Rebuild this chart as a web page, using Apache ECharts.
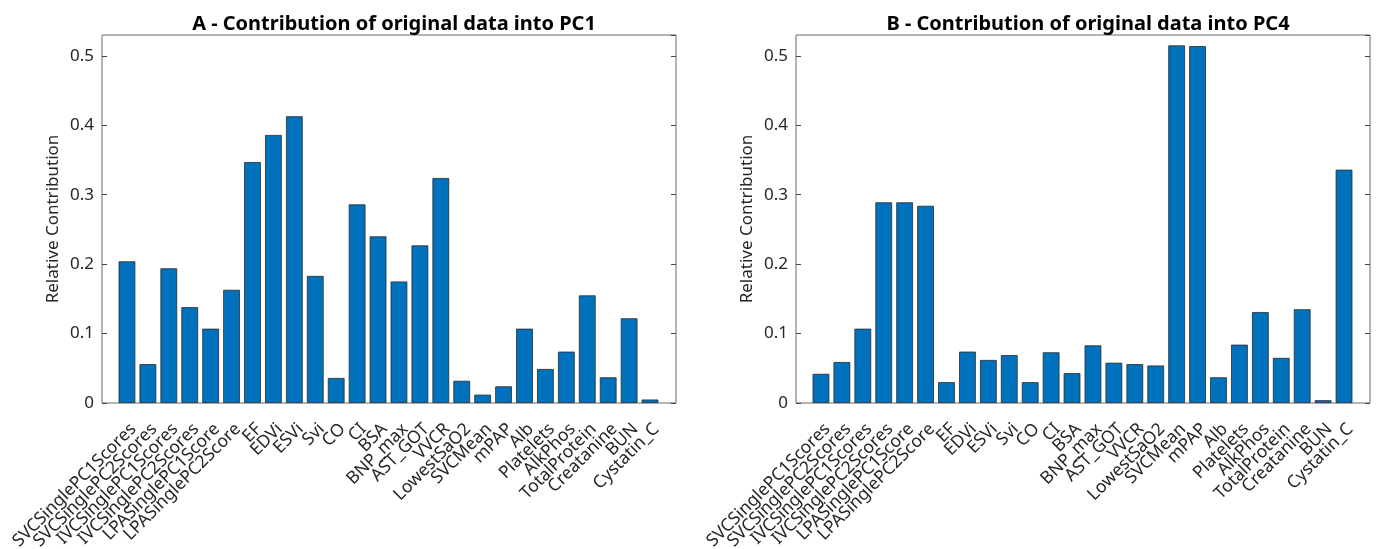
<!DOCTYPE html>
<html lang="en">
<head>
    <meta charset="UTF-8">
    <title>PC contributions</title>
    <script src="https://cdn.jsdelivr.net/npm/echarts@6/dist/echarts.min.js"></script>
    <style>
        body { margin: 0; background: #fff; }
    </style>
</head>
<body>
<div id="main" style="width: 1378px; height: 549px;"></div>

<script>
    var categories = ['SVCSinglePC1Scores', 'SVCSinglePC2Scores', 'IVCSinglePC1Scores', 'IVCSinglePC2Scores',
        'LPASinglePC1Score', 'LPASinglePC2Score', 'EF', 'EDVi', 'ESVi', 'Svi', 'CO', 'CI', 'BSA', 'BNP_max',
        'AST_GOT', 'VVCR', 'LowestSaO2', 'SVCMean', 'mPAP', 'Alb', 'Platelets', 'AlkPhos', 'TotalProtein',
        'Creatanine', 'BUN', 'Cystatin_C'];

    // contribution into PC1 (panel A)
    var pc1Values = [0.204, 0.056, 0.194, 0.138, 0.107, 0.163, 0.347, 0.386, 0.413, 0.183, 0.036, 0.286, 0.240,
        0.175, 0.227, 0.324, 0.032, 0.012, 0.024, 0.107, 0.049, 0.074, 0.155, 0.037, 0.122, 0.005];

    // contribution into PC4 (panel B)
    var pc4Values = [0.042, 0.059, 0.107, 0.289, 0.289, 0.284, 0.030, 0.074, 0.062, 0.069, 0.030, 0.073, 0.043,
        0.083, 0.058, 0.056, 0.054, 0.515, 0.514, 0.037, 0.084, 0.131, 0.065, 0.135, 0.004, 0.336];

    var titles = ['A - Contribution of original data into PC1', 'B - Contribution of original data into PC4'];
    var yMax = 0.53;

    var textColor = '#262626';
    var frameColor = '#6b6b6b';
    var font = 'Noto Sans';

    function panel(idx, frameLeft, values) {
        var g = idx * 2;
        var grids = [
            {
                left: frameLeft, top: 35, width: 574, height: 368, outerBoundsMode: 'none',
                show: true, borderColor: frameColor, borderWidth: 1
            },
            {left: frameLeft + 14.5, top: 35, width: 544, height: 368, outerBoundsMode: 'none'}
        ];
        var xAxes = [
            {gridIndex: g, type: 'value', show: false},
            {
                gridIndex: g + 1, type: 'category', data: categories, position: 'bottom', z: 5,
                axisLine: {show: false},
                axisTick: {inside: true, length: 5, alignWithLabel: true, lineStyle: {color: '#444'}},
                axisLabel: {
                    interval: 0, rotate: 45, margin: 17, verticalAlign: 'top',
                    color: textColor, fontFamily: font, fontSize: 17.5
                }
            },
            {
                gridIndex: g + 1, type: 'category', data: categories, position: 'top', z: 5,
                axisLine: {show: false},
                axisTick: {inside: true, length: 5, alignWithLabel: true, lineStyle: {color: '#444'}},
                axisLabel: {show: false}
            }
        ];
        var yAxes = [
            {
                gridIndex: g, type: 'value', min: 0, max: yMax, interval: 0.1, position: 'left',
                name: 'Relative Contribution', nameLocation: 'middle', nameGap: 40,
                nameTextStyle: {color: textColor, fontFamily: font, fontSize: 17},
                axisLine: {show: false}, splitLine: {show: false},
                axisTick: {inside: true, length: 5, lineStyle: {color: '#444'}},
                axisLabel: {showMaxLabel: false, margin: 8, color: textColor, fontFamily: font, fontSize: 17}
            },
            {
                gridIndex: g, type: 'value', min: 0, max: yMax, interval: 0.1, position: 'right',
                axisLine: {show: false}, splitLine: {show: false},
                axisTick: {inside: true, length: 5, lineStyle: {color: '#444'}},
                axisLabel: {show: false}
            },
            {gridIndex: g + 1, type: 'value', min: 0, max: yMax, show: false}
        ];
        var series = {
            type: 'bar',
            xAxisIndex: idx * 3 + 1,
            yAxisIndex: idx * 3 + 2,
            data: values,
            barCategoryGap: '20%',
            itemStyle: {color: '#0072BD', borderColor: '#2a2a2a', borderWidth: 0.8},
            silent: true
        };
        var title = {
            text: titles[idx],
            left: frameLeft + 287,
            top: 9,
            textAlign: 'center',
            textStyle: {color: '#000', fontFamily: font, fontSize: 20, fontWeight: 'bold'}
        };
        return {grids: grids, xAxes: xAxes, yAxes: yAxes, series: series, title: title};
    }

    var pA = panel(0, 102, pc1Values);
    var pB = panel(1, 796, pc4Values);

    var myChart = echarts.init(document.getElementById('main'));
    var option = {
        animation: false,
        title: [pA.title, pB.title],
        grid: pA.grids.concat(pB.grids),
        xAxis: pA.xAxes.concat(pB.xAxes),
        yAxis: pA.yAxes.concat(pB.yAxes),
        series: [pA.series, pB.series]
    };
    myChart.setOption(option);
</script>
</body>
</html>
